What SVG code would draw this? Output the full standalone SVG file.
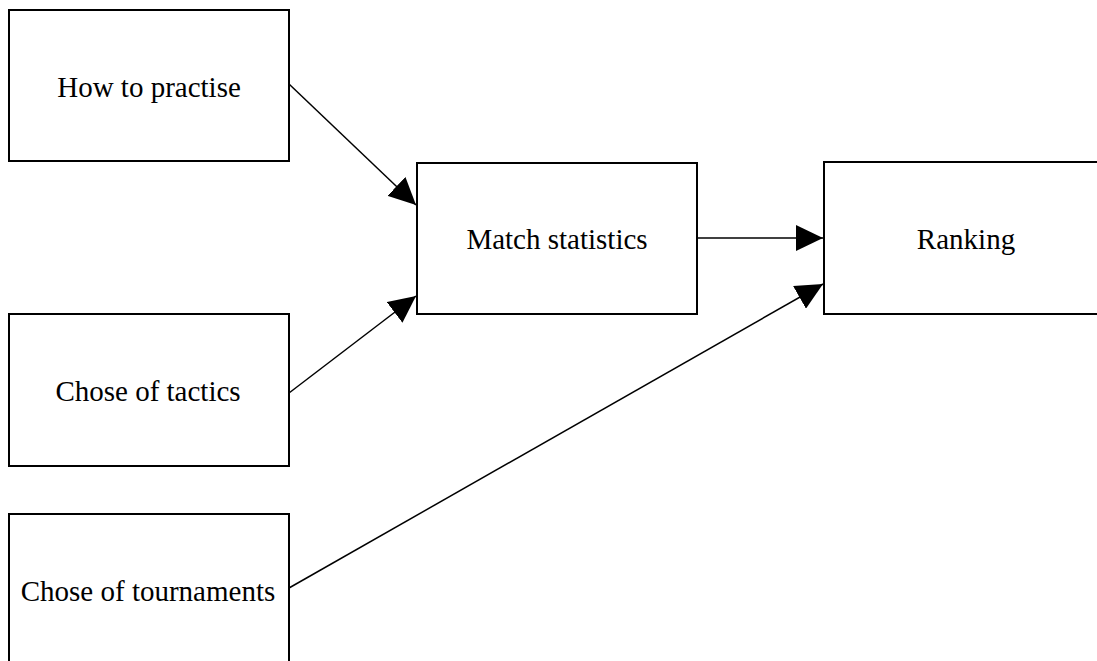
<svg xmlns="http://www.w3.org/2000/svg" width="1097" height="661" viewBox="0 0 1097 661">
<style>
.box{fill:#fff;stroke:#000;stroke-width:2}
.lbl{font-family:"Liberation Serif","Times New Roman",serif;font-size:29px;fill:#000;text-anchor:middle}
.conn{stroke:#000;stroke-width:1.5;fill:none;marker-end:url(#arr)}
</style>
<defs>
<marker id="arr" markerUnits="userSpaceOnUse" markerWidth="28" markerHeight="26" refX="27" refY="13" orient="auto" viewBox="0 0 28 26">
<path d="M0,0 L27,13 L0,26 z" fill="#000"/>
</marker>
</defs>
<rect width="1097" height="661" fill="#fff"/>
<g id="n-practise"><rect class="box" x="9" y="10" width="280" height="151"/><text class="lbl" x="149" y="97">How to practise</text></g>
<g id="n-tactics"><rect class="box" x="9" y="314" width="280" height="152"/><text class="lbl" x="148" y="401">Chose of tactics</text></g>
<g id="n-tournaments"><rect class="box" x="9" y="514" width="280" height="170"/><text class="lbl" x="148" y="601">Chose of tournaments</text></g>
<g id="n-match"><rect class="box" x="417" y="163" width="280" height="151"/><text class="lbl" x="557" y="249">Match statistics</text></g>
<g id="n-ranking"><rect class="box" x="824" y="162" width="284" height="152"/><text class="lbl" x="966" y="249">Ranking</text></g>
<g id="connectors">
<line class="conn" x1="289" y1="84" x2="416" y2="205"/>
<line class="conn" x1="289" y1="393" x2="416" y2="296"/>
<line class="conn" x1="697" y1="238" x2="823" y2="238"/>
<line class="conn" x1="289" y1="588" x2="823" y2="284"/>
</g>
</svg>
